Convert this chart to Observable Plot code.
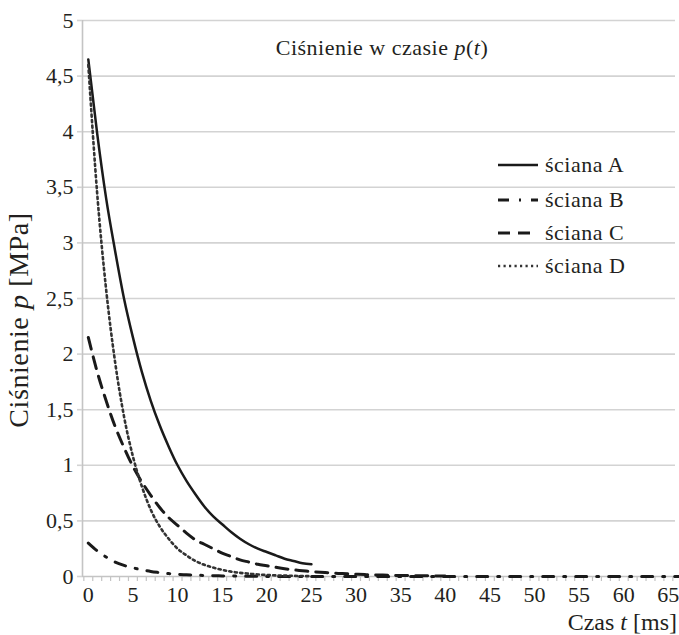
<!DOCTYPE html>
<html><head><meta charset="utf-8">
<script src="https://cdn.jsdelivr.net/npm/d3@7"></script>
<script src="https://cdn.jsdelivr.net/npm/@observablehq/plot@0.6"></script>
<style>
body{margin:0;background:#fff}
#chart svg, #chart svg text { font-family: "Liberation Serif", "DejaVu Serif", serif !important; font-size: 22px !important; }
#chart svg text.ls { letter-spacing: 0.5px; }
#chart svg text.ylab { font-size: 28px !important; letter-spacing: 0.6px; }
#chart svg text.xlab { font-size: 24px !important; }
</style>
</head><body><div id="chart"></div>
<script>
// ---- data (time t in ms = array index) ----
const seriesNames = ["ściana A", "ściana B", "ściana C", "ściana D"];
const pA = [4.65,3.98,3.40,2.93,2.50,2.15,1.84,1.58,1.36,1.17,1.00,0.86,0.74,0.63,0.54,0.47,0.40,0.34,0.29,0.25,0.22,0.19,0.16,0.14,0.12,0.11];
const pB = [0.30,0.23,0.175,0.13,0.10,0.078,0.06,0.045,0.035,0.026,0.02,0.015,0.012,0.009,0.007,0.005,0.004,0.003,0.002,0.002,0.001,
  0,0,0,0,0,0,0,0,0,0,0,0,0,0,0,0,0,0,0,0,0,0,0,0,0,0,0,0,0,0,0,0,0,0,0,0,0,0,0,0,0,0,0,0,0,0,0,0,0,0];
const pC = [2.15,1.84,1.58,1.35,1.16,0.99,0.85,0.73,0.62,0.53,0.46,0.39,0.33,0.29,0.25,0.21,0.18,0.15,0.13,0.11,0.097,0.083,0.07,0.06,0.052,0.044,0.038,0.033,0.028,0.024,0.02,0.017,0.015,0.013,0.011,0.009,0.008,0.007,0.006,0.005,0.004];
const pD = [4.60,3.44,2.58,1.93,1.44,1.08,0.81,0.60,0.45,0.34,0.25,0.19,0.14,0.105,0.08,0.06,0.044,0.033,0.025,0.018,0.014,0.01,0.008,0.006,0.004,0.003];
const xTickLabels = [0,5,10,15,20,25,30,35,40,45,50,55,60,65];
const yTickLabels = [0,0.5,1,1.5,2,2.5,3,3.5,4,4.5,5];
const xMinorTicks = d3.range(-0.5, 66, 1);

// ---- styles ----
const seriesDash = [null, "11,10,2,10", "12,8", "2.2,3.3"];
const seriesWidth = [2.5, 3, 3, 2.6];
const seriesColor = ["#1a1a1a", "#1a1a1a", "#1a1a1a", "#333333"];
const gridColor = "#d3d3d3";
const textColor = "#231f20";

const values = [pA, pB, pC, pD];
const rows = values.map((arr, i) => arr.map((p, t) => ({series: seriesNames[i], t, p})));

const lineMarks = rows.map((r, i) => Plot.line(r, {
  x: "t", y: "p", stroke: seriesColor[i], strokeWidth: seriesWidth[i],
  strokeDasharray: seriesDash[i] || undefined, strokeLinejoin: "round", curve: "monotone-x"
}));

const chart = Plot.plot({
  width: 679, height: 635,
  marginLeft: 82, marginRight: 4, marginTop: 20, marginBottom: 59,
  style: {fontFamily: "'Liberation Serif', serif", fontSize: "22px", color: textColor, background: "#fff"},
  x: {domain: [-0.65, 65.8]},
  y: {domain: [0, 5]},
  marks: [
    Plot.gridY({ticks: yTickLabels.filter(d => d > 0), stroke: gridColor, strokeOpacity: 1, strokeWidth: 1.6}),
    Plot.ruleY([0], {stroke: "#c4c4c4", strokeWidth: 1.6}),
    Plot.ruleX([-0.65], {y1: 0, y2: 5, stroke: "#c4c4c4", strokeWidth: 1.6}),
    Plot.axisX({ticks: xMinorTicks, tickSize: 5, stroke: "#c4c4c4", strokeWidth: 1.2, tickFormat: () => "", label: null}),
    Plot.axisX({ticks: xTickLabels, tickSize: 0, tickPadding: 10, label: null, fill: textColor, fontSize: 22}),
    Plot.axisY({ticks: yTickLabels, tickSize: 5, tickPadding: 4, stroke: gridColor, strokeWidth: 1.6,
      tickFormat: d => String(d).replace(".", ","), label: null, fill: textColor, fontSize: 22}),
    ...lineMarks
  ]
});

const svg = d3.select(chart);

function richText(sel, parts) {
  parts.forEach(([s, it]) => {
    const ts = sel.append("tspan").text(s);
    if (it) ts.attr("font-style", "italic");
  });
  return sel;
}

// title
richText(svg.append("text").attr("class", "ls").attr("x", 382).attr("y", 55).attr("text-anchor", "middle").attr("fill", textColor),
  [["Ciśnienie w czasie ", false], ["p", true], ["(", false], ["t", true], [")", false]]);

// y label
richText(svg.append("text").attr("class", "ylab").attr("transform", "translate(28,320) rotate(-90)").attr("text-anchor", "middle").attr("fill", textColor),
  [["Ciśnienie ", false], ["p", true], [" [MPa]", false]]);

// x label
richText(svg.append("text").attr("class", "xlab").attr("x", 677).attr("y", 630).attr("text-anchor", "end").attr("fill", textColor),
  [["Czas ", false], ["t", true], [" [ms]", false]]);

// legend
const legendY = [165, 200, 233, 266];
const lg = svg.append("g");
seriesNames.forEach((name, i) => {
  lg.append("line").attr("x1", 498).attr("x2", 538).attr("y1", legendY[i]).attr("y2", legendY[i])
    .attr("stroke", seriesColor[i]).attr("stroke-width", seriesWidth[i])
    .attr("stroke-dasharray", seriesDash[i]);
  lg.append("text").attr("class", "ls").attr("x", 545).attr("y", legendY[i] + 7).attr("text-anchor", "start")
    .attr("fill", textColor).text(name);
});

document.getElementById("chart").appendChild(chart);
</script></body></html>
